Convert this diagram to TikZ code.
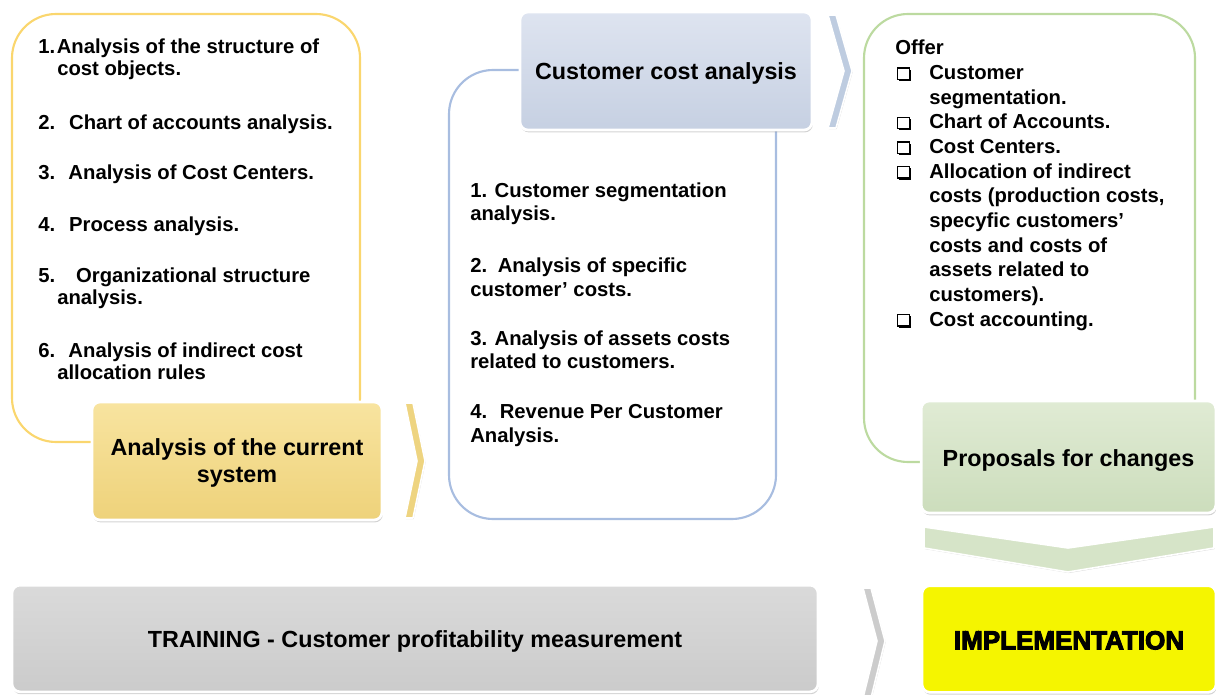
\documentclass[tikz,border=0pt]{standalone}
\usepackage{fontspec}
\setmainfont{Liberation Sans}
\newfontfamily\heavyfont{Liberation Sans}[BoldFeatures={FakeBold=4}]
\usetikzlibrary{shadows}

\definecolor{curT}{RGB}{248,228,160}
\definecolor{curB}{RGB}{238,210,122}
\definecolor{ccaT}{RGB}{222,228,240}
\definecolor{ccaB}{RGB}{198,208,226}
\definecolor{propT}{RGB}{224,235,212}
\definecolor{propB}{RGB}{204,221,188}
\definecolor{trainT}{RGB}{218,218,218}
\definecolor{trainB}{RGB}{203,203,203}
\definecolor{implFill}{RGB}{245,245,0}
\definecolor{lineY}{RGB}{250,214,110}
\definecolor{lineB}{RGB}{168,189,224}
\definecolor{lineG}{RGB}{188,218,160}
\definecolor{chevY}{RGB}{238,212,128}
\definecolor{chevB}{RGB}{190,204,224}
\definecolor{chevG}{RGB}{214,228,200}

% hollow square bullet with a shadow on its lower right
\newcommand\chkbox{\makebox[25.5pt][l]{\hspace*{1.5pt}\tikz[baseline=0pt]{%
  \draw[line width=0.8pt] (0pt,0pt) rectangle (8.5pt,8.5pt);
  \draw[line width=1.6pt] (1.2pt,-0.5pt) -- (9.3pt,-0.5pt) -- (9.3pt,7.3pt);}}}

\tikzset{
  stage/.style={draw=white, line width=2pt, rounded corners=6pt, inner sep=0pt,
    drop shadow={shadow xshift=0.6pt, shadow yshift=-1.8pt, opacity=0.35}},
  stagetext/.style={inner sep=0pt, align=center, font=\fontsize{17.5}{20}\selectfont\bfseries},
  frame/.style={line width=1.6pt, rounded corners=33pt},
  chev/.style={draw=white, line width=1.2pt, line join=round,
    drop shadow={shadow xshift=0.5pt, shadow yshift=-0.8pt, opacity=0.3}},
  % lists are placed by the baseline of their last line
  listtext/.style={inner sep=0pt, align=left, anchor=base west}
}

\begin{document}
\begin{tikzpicture}[x=0.75pt, y=-0.75pt]
\useasboundingbox (0,0) rectangle (1216,695);

% outline frames behind the stage boxes
\draw[frame, lineY] (12,14) rectangle (360,442);
\draw[frame, lineB] (449,70) rectangle (776,519);
\draw[frame, lineG] (864,14) rectangle (1195,462);

% chevrons
\path[chev, fill=chevY] (405,403) -- (413,403) -- (425,461) -- (413,518) -- (405,518) -- (417,461) -- cycle;
\path[chev, fill=chevB] (828,15) -- (836,15) -- (852,71) -- (836,128) -- (828,128) -- (844,71) -- cycle;
\path[chev, fill=gray!40] (863,588) -- (871,588) -- (885,641) -- (871,698) -- (863,698) -- (877,641) -- cycle;
\path[chev, fill=chevG] (924,527) -- (1068,548) -- (1214,527) -- (1214,548) -- (1068,572) -- (924,548) -- cycle;

% stage boxes
\node[stage, minimum width=217.5pt, minimum height=88.5pt, top color=curT, bottom color=curB]
  (cur) at (237,461) {};
\node[stage, minimum width=219pt, minimum height=88.5pt, top color=ccaT, bottom color=ccaB]
  (cca) at (666,71) {};
\node[stage, minimum width=221pt, minimum height=84pt, top color=propT, bottom color=propB]
  (prop) at (1068.5,457) {};
\node[stage, minimum width=604.5pt, minimum height=80pt, top color=trainT, bottom color=trainB]
  (train) at (415,638.5) {};
\node[stage, minimum width=220.5pt, minimum height=80pt, fill=implFill]
  (impl) at (1069,639) {};

% stage labels
\node[stagetext] (curlabel) at ([yshift=-1.5pt]cur.center) {Analysis of the current\\system};
\node[stagetext] (ccalabel) at ([yshift=-1.5pt]cca.center) {Customer cost analysis};
\node[stagetext] (proplabel) at ([yshift=-2.5pt]prop.center) {Proposals for changes};
\node[stagetext] (trainlabel) at ([yshift=-2.5pt]train.center) {TRAINING - Customer profitability measurement};
\node[stagetext, font=\fontsize{19.5}{22}\heavyfont\bfseries] (impllabel) at ([yshift=-1pt]impl.center) {IMPLEMENTATION};

% list of the current-system analyses
\node[listtext, font=\fontsize{15.2}{16.5}\selectfont\bfseries] (curlist) at (38,379)
 {1.\kern1.2pt Analysis of the structure of\\\hspace*{14.25pt}cost objects.\\[24pt]
  2.\hspace{10.5pt}Chart of accounts analysis.\\[21pt]
  3.\hspace{10pt}Analysis of Cost Centers.\\[22.5pt]
  4.\hspace{10.5pt}Process analysis.\\[21.75pt]
  5.\hspace{15.75pt}Organizational structure\\\hspace*{14.25pt}analysis.\\[23.25pt]
  6.\hspace{10pt}Analysis of indirect cost\\\hspace*{14.25pt}allocation rules};

% list of the customer cost analyses
\node[listtext, font=\fontsize{15.2}{17.6}\selectfont\bfseries] (ccalist) at (470,442)
 {1. Customer segmentation\\analysis.\\[21.4pt]
  2.\hspace{8pt}Analysis of specific\\customer’ costs.\\[19.1pt]
  3. Analysis of assets costs\\related to customers.\\[19.9pt]
  4.\hspace{9.5pt}Revenue Per Customer\\Analysis.};

% offer list
\node[listtext, font=\fontsize{15.2}{18.5}\selectfont\bfseries] (offer) at (895,326)
 {Offer\\
  \chkbox Customer\\\hspace*{25.5pt}segmentation.\\
  \chkbox Chart of Accounts.\\
  \chkbox Cost Centers.\\
  \chkbox Allocation of indirect\\\hspace*{25.5pt}costs (production costs,\\\hspace*{25.5pt}specyfic customers’\\\hspace*{25.5pt}costs and costs of\\\hspace*{25.5pt}assets related to\\\hspace*{25.5pt}customers).\\
  \chkbox Cost accounting.};
\end{tikzpicture}
\end{document}
